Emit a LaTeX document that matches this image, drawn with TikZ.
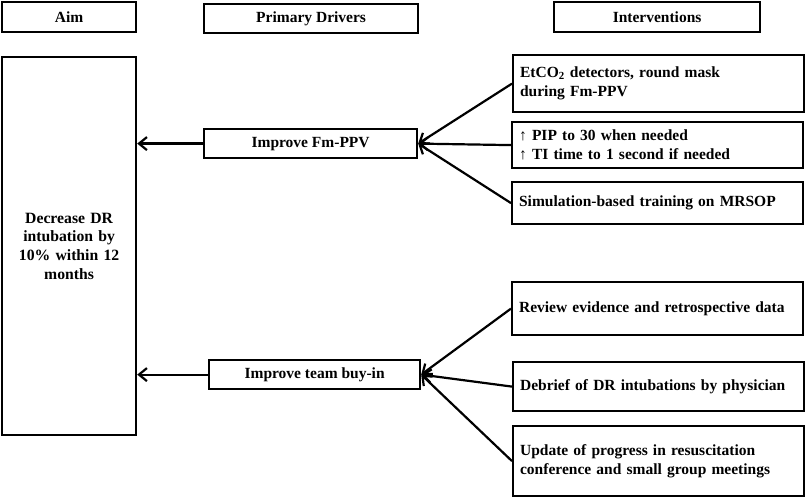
\documentclass[tikz,border=0pt]{standalone}
\usepackage{fontspec}
\setmainfont{Liberation Serif}
\usetikzlibrary{arrows.meta, positioning}

\begin{document}
\begin{tikzpicture}[
    x=1pt, y=-1pt,
    header/.style={rectangle, draw, line width=2.2pt, font=\bfseries\fontsize{15.5}{18}\selectfont, minimum height=30pt, anchor=north west, inner sep=0pt},
    aim_block/.style={rectangle, draw, line width=2.2pt, font=\bfseries\fontsize{15.7}{18.7}\selectfont, text width=122pt, align=center, minimum height=378pt, anchor=north west, inner xsep=6pt},
    driver_block/.style={rectangle, draw, line width=2.2pt, font=\bfseries\fontsize{15.5}{18.7}\selectfont, minimum height=29pt, anchor=north west, inner sep=0pt},
    step_block/.style={rectangle, draw, line width=2.2pt, font=\bfseries\fontsize{15.5}{19}\selectfont, text width=277pt, align=left, anchor=north west, inner xsep=7pt, inner ysep=0pt},
    arrow/.style={-{Straight Barb[length=8pt, width=13pt]}, line width=2.2pt}
]
    \useasboundingbox (0,0) rectangle (805,497);

    % Column headers
    \node[header, minimum width=134pt] (head_aim) at (1,1) {Aim};
    \node[header, minimum width=214pt, minimum height=29pt] (head_drivers) at (203,3) {Primary Drivers};
    \node[header, minimum width=206pt] (head_steps) at (553,1) {Interventions};

    % Aim
    \node[aim_block] (aim) at (1,56) {Decrease DR\\intubation by\\10\% within 12\\months};

    % Primary drivers
    \node[driver_block, minimum width=213pt] (fm_ppv) at (203,128) {Improve Fm-PPV};
    \node[driver_block, minimum width=211pt] (buy_in) at (208,359) {Improve team buy-in};

    \draw[arrow] (fm_ppv.west) -- (aim.east |- fm_ppv.west);
    \draw[arrow] (buy_in.west) -- (aim.east |- buy_in.west);

    % Interventions: Fm-PPV
    \node[step_block, minimum height=57pt] (etco2) at (512,54) {EtCO\textsubscript{2} detectors, round mask\\during Fm-PPV};
    \node[step_block, minimum height=46pt] (pip) at (511,121) {↑ PIP to 30 when needed\\↑ TI time to 1 second if needed};
    \node[step_block, minimum height=42pt] (sim) at (511,181) {Simulation-based training on MRSOP};

    \foreach \s in {etco2, pip, sim}
        \draw[arrow] (\s.west) -- (fm_ppv.east);

    % Interventions: team buy-in
    \node[step_block, minimum height=53pt] (review) at (511,281) {Review evidence and retrospective data};
    \node[step_block, minimum height=49pt] (debrief) at (512,361) {Debrief of DR intubations by physician};
    \node[step_block, minimum height=70pt] (update) at (512,425) {Update of progress in resuscitation\\conference and small group meetings};

    \foreach \s in {review, debrief, update}
        \draw[arrow] (\s.west) -- (buy_in.east);

\end{tikzpicture}
\end{document}
